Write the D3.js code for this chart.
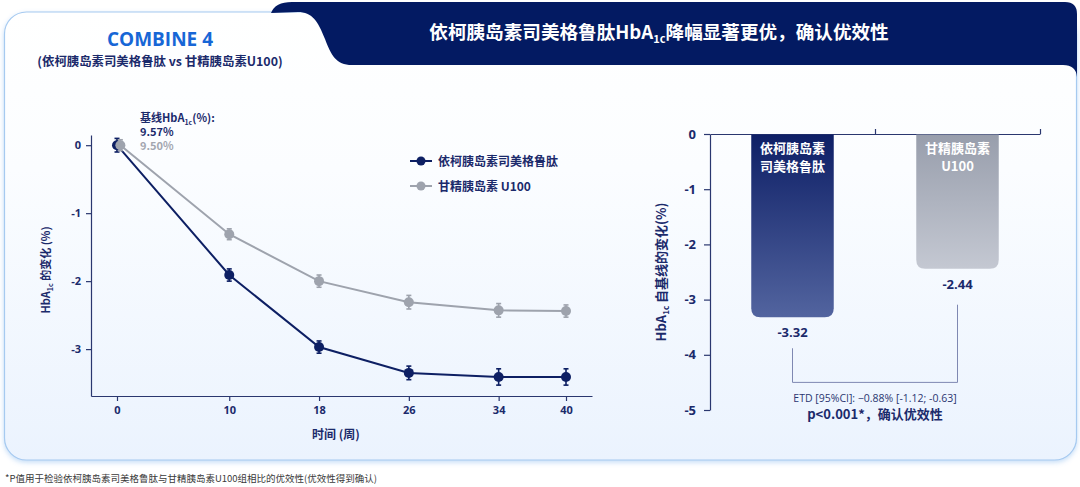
<!DOCTYPE html>
<html><head><meta charset="utf-8">
<script src="https://cdn.jsdelivr.net/npm/d3@7"></script>
<style>
html,body{margin:0;padding:0;background:#fff;}
svg{display:block;font-family:"Noto Sans CJK SC","Noto Sans",sans-serif;}
</style></head>
<body><svg id="c" width="1080" height="487"></svg>
<script>
// ---- data ----
const weeks = [0, 10, 18, 26, 34, 40];
const weekTickLabels = ["0", "10", "18", "26", "34", "40"];
const iglarLiraValues = [0, -1.91, -2.97, -3.35, -3.41, -3.41];
const iglarLiraErr = [0.1, 0.09, 0.09, 0.1, 0.12, 0.12];
const glargineValues = [0, -1.31, -2.0, -2.31, -2.43, -2.44];
const glargineErr = [0.08, 0.08, 0.09, 0.1, 0.1, 0.09];
const glargineWeekShift = [0.3, 0, 0, 0, 0, 0];
const lineYTicks = [0, -1, -2, -3];
const seriesNames = ["依柯胰岛素司美格鲁肽", "甘精胰岛素 U100"];
const barCategories = ["依柯胰岛素司美格鲁肽", "甘精胰岛素U100"];
const barLabelLines = [["依柯胰岛素", "司美格鲁肽"], ["甘精胰岛素", "U100"]];
const barValues = [-3.32, -2.44];
const barValueLabels = ["-3.32", "-2.44"];
const barYTicks = [0, -1, -2, -3, -4, -5];

const NAVY = "#0d1f63", GRAY = "#9ea3ad", TXT = "#1b2a6b";
const fmtTick = d => (d < 0 ? "-" + Math.abs(d) : String(d));
const svg = d3.select("#c");
const defs = svg.append("defs");

// card gradient + shadow
const cg = defs.append("linearGradient").attr("id","cardG").attr("x1",0).attr("y1",0).attr("x2",0).attr("y2",1);
cg.append("stop").attr("offset","0%").attr("stop-color","#ffffff");
cg.append("stop").attr("offset","35%").attr("stop-color","#fbfdff");
cg.append("stop").attr("offset","100%").attr("stop-color","#ebf3fe");
const sh = defs.append("filter").attr("id","sh").attr("x","-5%").attr("y","-5%").attr("width","110%").attr("height","115%");
sh.append("feDropShadow").attr("dx",0).attr("dy",2).attr("stdDeviation",2.5).attr("flood-color","#7fb4ee").attr("flood-opacity",0.45);

const bg1 = defs.append("linearGradient").attr("id","barG0").attr("x1",0).attr("y1",0).attr("x2",0).attr("y2",1);
bg1.append("stop").attr("offset","0%").attr("stop-color","#0e1f66");
bg1.append("stop").attr("offset","100%").attr("stop-color","#52649f");
const bg2 = defs.append("linearGradient").attr("id","barG1").attr("x1",0).attr("y1",0).attr("x2",0).attr("y2",1);
bg2.append("stop").attr("offset","0%").attr("stop-color","#989eac");
bg2.append("stop").attr("offset","100%").attr("stop-color","#c4c8d2");

// card
svg.append("rect").attr("x",4.5).attr("y",12).attr("width",1072).attr("height",448).attr("rx",22)
  .attr("fill","url(#cardG)").attr("stroke","#a6caf0").attr("stroke-width",1.2).attr("filter","url(#sh)");

// banner
svg.append("path").attr("d","M271,13 Q275,2 292,2 L1065,2 Q1077,2 1077,14 L1077,77 Q1076,65 1063,65 L352,65 C336,65 331,55 325,39 C318,21 312,12 298,12 Z")
  .attr("fill","#031a62");

// banner title
const bt = svg.append("text").attr("x",659).attr("y",39).attr("text-anchor","middle")
  .attr("fill","#fff").attr("font-size",18.6).attr("font-weight","bold");
bt.append("tspan").text("依柯胰岛素司美格鲁肽HbA");
bt.append("tspan").text("1c").attr("font-size",11).attr("dy",4);
bt.append("tspan").text("降幅显著更优，确认优效性").attr("dy",-4);

// left header
svg.append("text").attr("x",160).attr("y",46).attr("text-anchor","middle").attr("fill","#1766d6")
  .attr("font-size",19).attr("font-weight","bold").attr("font-family","'Open Sans','Noto Sans',sans-serif").text("COMBINE 4");
svg.append("text").attr("x",160).attr("y",66).attr("text-anchor","middle").attr("fill",TXT)
  .attr("font-size",12.4).attr("font-weight","bold").text("(依柯胰岛素司美格鲁肽 vs 甘精胰岛素U100)");

// ---------- Left line chart ----------
const x = d3.scaleLinear().domain([-2.316, 42.316]).range([91, 592]);
const y = d3.scaleLinear().domain([0.15, -3.69]).range([135, 396]);

const gy = svg.append("g").attr("transform",`translate(${x(-2.316)},0)`)
  .call(d3.axisLeft(y).tickValues(lineYTicks).tickSize(5).tickSizeOuter(0).tickPadding(5).tickFormat(fmtTick));
const gx = svg.append("g").attr("transform",`translate(0,${y(-3.69)})`)
  .call(d3.axisBottom(x).tickValues(weeks).tickSize(5).tickSizeOuter(0).tickPadding(5).tickFormat((d,i)=>weekTickLabels[i]));
[gx, gy].forEach(g=>{
  g.selectAll("path,line").attr("stroke","#2a376f").attr("stroke-width",1.2);
  g.selectAll("text").attr("fill",TXT).attr("font-size",11).attr("font-weight","bold")
    .attr("font-family","'Open Sans','Noto Sans',sans-serif");
});

function drawSeries(vals, errs, shift, color){
  const pts = weeks.map((w,i)=>({w:w+shift[i], v:vals[i], e:errs[i]}));
  svg.append("path").datum(pts).attr("fill","none").attr("stroke",color).attr("stroke-width",2)
    .attr("d", d3.line().x(d=>x(d.w)).y(d=>y(d.v)));
  const g = svg.append("g");
  pts.forEach(p=>{
    g.append("line").attr("x1",x(p.w)).attr("x2",x(p.w)).attr("y1",y(p.v+p.e)).attr("y2",y(p.v-p.e)).attr("stroke",color).attr("stroke-width",1.6);
    [p.v+p.e,p.v-p.e].forEach(v=>g.append("line").attr("x1",x(p.w)-2.5).attr("x2",x(p.w)+2.5).attr("y1",y(v)).attr("y2",y(v)).attr("stroke",color).attr("stroke-width",1.6));
    g.append("circle").attr("cx",x(p.w)).attr("cy",y(p.v)).attr("r",5).attr("fill",color);
  });
}
drawSeries(iglarLiraValues, iglarLiraErr, [0,0,0,0,0,0], NAVY);
drawSeries(glargineValues, glargineErr, glargineWeekShift, GRAY);

// legend
[[NAVY, 161],[GRAY, 186]].forEach(([c,yy],i)=>{
  svg.append("line").attr("x1",410).attr("x2",432).attr("y1",yy).attr("y2",yy).attr("stroke",c).attr("stroke-width",2);
  svg.append("circle").attr("cx",421).attr("cy",yy).attr("r",4.5).attr("fill",c);
  svg.append("text").attr("x",438).attr("y",yy+4.5).attr("fill",TXT).attr("font-size",12).attr("font-weight","bold").text(seriesNames[i]);
});

// baseline annotation
const an = svg.append("text").attr("x",140).attr("y",122).attr("fill",TXT).attr("font-size",11).attr("font-weight","bold");
an.append("tspan").text("基线HbA");
an.append("tspan").text("1c").attr("font-size",7).attr("dy",3);
an.append("tspan").text("(%):").attr("dy",-3);
svg.append("text").attr("x",140).attr("y",136).attr("fill",TXT).attr("font-size",11).attr("font-weight","bold").text("9.57%");
svg.append("text").attr("x",140).attr("y",150).attr("fill","#a3a7b0").attr("font-size",11).attr("font-weight","bold").text("9.50%");

// axis titles
const yl = svg.append("text").attr("transform","translate(50,270) rotate(-90)").attr("text-anchor","middle")
  .attr("fill",TXT).attr("font-size",11).attr("font-weight","bold");
yl.append("tspan").text("HbA");
yl.append("tspan").text("1c").attr("font-size",7).attr("dy",3);
yl.append("tspan").text(" 的变化 (%)").attr("dy",-3);
svg.append("text").attr("x",336).attr("y",439).attr("text-anchor","middle").attr("fill",TXT)
  .attr("font-size",12).attr("font-weight","bold").text("时间 (周)");

// ---------- Right bar chart ----------
const xb = d3.scaleBand().domain(barCategories).range([710, 1040]).paddingInner(0.5).paddingOuter(0.25);
const yb = d3.scaleLinear().domain([0, -5]).range([134, 410]);
const xTop = d3.scaleLinear().domain([0, 2]).range([710, 1040]);

const gby = svg.append("g").attr("transform",`translate(${xTop(0)},0)`)
  .call(d3.axisLeft(yb).tickValues(barYTicks).tickSize(6).tickSizeOuter(0).tickPadding(8).tickFormat(fmtTick));
const gbx = svg.append("g").attr("transform",`translate(0,${yb(0)})`)
  .call(d3.axisTop(xTop).tickValues([1,2]).tickSize(5).tickSizeOuter(0).tickFormat(""));
[gby, gbx].forEach(g=>{
  g.selectAll("path,line").attr("stroke","#2a376f").attr("stroke-width",1.2);
  g.selectAll("text").attr("fill",TXT).attr("font-size",13).attr("font-weight","bold")
    .attr("font-family","'Open Sans','Noto Sans',sans-serif");
});

const r = 9;
barCategories.forEach((c,i)=>{
  const x0 = xb(c), w = xb.bandwidth(), y0 = yb(0), y1 = yb(barValues[i]);
  svg.append("path").attr("fill",`url(#barG${i})`)
    .attr("d",`M${x0},${y0+0.6} L${x0+w},${y0+0.6} L${x0+w},${y1-r} Q${x0+w},${y1} ${x0+w-r},${y1} L${x0+r},${y1} Q${x0},${y1} ${x0},${y1-r} Z`);
  barLabelLines[i].forEach((t,j)=>{
    svg.append("text").attr("x",x0+w/2).attr("y",yb(0)+19+j*17.5).attr("text-anchor","middle").attr("fill","#fff")
      .attr("font-size",13).attr("font-weight","bold").text(t);
  });
  svg.append("text").attr("x",x0+w/2).attr("y",y1+20).attr("text-anchor","middle").attr("fill",TXT)
    .attr("font-size",13).attr("font-weight","bold").attr("font-family","'Open Sans','Noto Sans',sans-serif").text(barValueLabels[i]);
});

// bracket
const cx0 = xb(barCategories[0]) + xb.bandwidth()/2, cx1 = xb(barCategories[1]) + xb.bandwidth()/2;
const yBot = yb(-4.5);
svg.append("path").attr("fill","none").attr("stroke","#7f88b2").attr("stroke-width",1)
  .attr("d",`M${cx0},${yb(barValues[0])+31} L${cx0},${yBot} L${cx1},${yBot} L${cx1},${yb(barValues[1])+36}`);

svg.append("text").attr("x",(cx0+cx1)/2).attr("y",402).attr("text-anchor","middle").attr("fill","#2b3670")
  .attr("font-size",10.5).attr("font-family","'Open Sans','Noto Sans',sans-serif").text("ETD [95%CI]: −0.88% [-1.12; -0.63]");
svg.append("text").attr("x",(cx0+cx1)/2).attr("y",419).attr("text-anchor","middle").attr("fill",TXT)
  .attr("font-size",13).attr("font-weight","bold").text("p<0.001*，确认优效性");

const yl2 = svg.append("text").attr("transform","translate(666,272) rotate(-90)").attr("text-anchor","middle")
  .attr("fill",TXT).attr("font-size",13).attr("font-weight","bold");
yl2.append("tspan").text("HbA");
yl2.append("tspan").text("1c").attr("font-size",8).attr("dy",3);
yl2.append("tspan").text(" 自基线的变化(%)").attr("dy",-3);

// footnote
svg.append("text").attr("x",5).attr("y",482).attr("fill","#3a3a3a").attr("font-size",9.5)
  .text("*P值用于检验依柯胰岛素司美格鲁肽与甘精胰岛素U100组相比的优效性(优效性得到确认)");
</script></body></html>
